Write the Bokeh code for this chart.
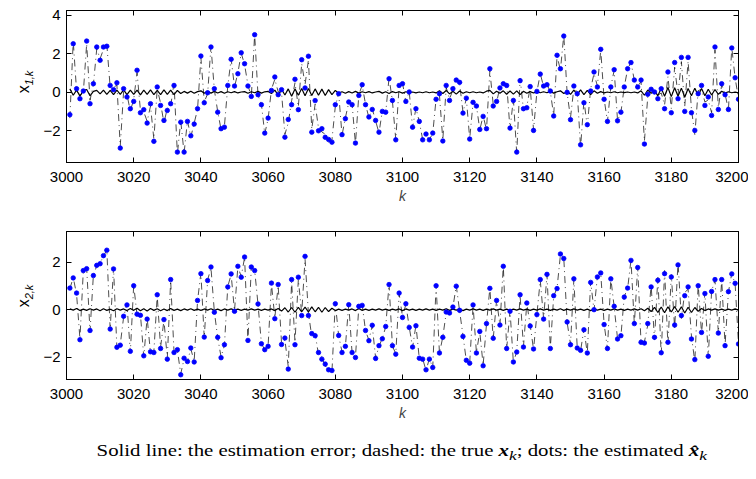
from bokeh.plotting import figure
from bokeh.models import LinearAxis, FixedTicker, Range1d, Div
from bokeh.layouts import column, row
from bokeh.embed import file_html
from bokeh.resources import INLINE

k = list(range(3001, 3201))
xticks = [3000, 3020, 3040, 3060, 3080, 3100, 3120, 3140, 3160, 3180, 3200]
yticks1 = [-2, 0, 2, 4]
yticks2 = [-2, 0, 2]

# estimated x_1,k (dots)
est1 = [
    -1.16, 2.53, 0.19, -0.33, 0.07, 2.67, -0.59, 0.45, 2.36, 1.67,
    2.36, 2.40, 0.36, 0.14, 0.50, -2.90, 0.19, -0.24, -0.85, -0.47,
    1.15, -1.06, -0.90, -1.60, -0.59, -2.55, 0.28, -0.68, -1.46, -0.94,
    -0.59, 0.36, -3.11, -1.55, -3.11, -1.51, -2.26, -1.65, -0.85, 1.89,
    -0.54, -0.02, 2.36, 0.19, -1.03, -1.89, -1.81, 0.36, 1.72, 0.33,
    0.97, 2.06, 1.49, 0.33, -0.21, 3.00, -0.12, -0.64, -2.12, -1.34,
    0.10, 0.80, -0.12, 0.14, -2.33, -1.41, -0.64, 0.68, -0.90, 1.70,
    0.23, 1.88, -2.07, -0.43, -2.00, -1.89, -2.34, -2.45, -2.59, -0.64,
    -0.07, -2.20, -1.37, -0.50, -0.64, -2.64, -0.16, 0.40, -0.64, -1.28,
    -0.89, -1.46, -2.07, -0.99, -1.03, 0.71, -0.42, -2.47, 0.36, 0.45,
    -0.47, 0.02, -1.81, -0.85, -1.51, -2.47, -2.17, -2.47, -2.12, -0.36,
    -0.07, -2.53, 0.36, -0.42, 0.19, 0.64, 0.52, -1.08, -0.30, -2.43,
    -0.52, -0.71, -1.93, -1.25, -1.89, 1.23, -0.71, -0.47, 0.23, 0.45,
    0.36, -1.86, -0.42, -3.11, 0.61, -0.85, -0.80, 0.30, -1.98, 0.05,
    0.95, 0.33, 0.40, 0.07, -1.23, 1.93, 1.23, 2.93, 0.00, -1.42,
    0.33, -0.07, -2.73, -0.54, -1.68, 0.07, 1.06, 0.28, 2.24, -0.36,
    -1.51, 0.28, 1.18, -1.48, -1.03, 0.28, 1.23, 1.55, 0.64, 0.28,
    0.64, -2.69, -0.10, 0.16, 0.02, -0.33, 0.19, -0.85, 1.06, -1.06,
    1.55, -0.33, 1.82, -0.99, 1.82, -1.06, -1.98, -0.07, 0.36, -0.68,
    -0.24, -1.20, 2.36, -0.89, 0.45, -0.12, -0.89, 2.31, 0.76, -0.36,
]

# estimation error of x_1,k (solid line)
err1 = [
    0.18, -0.15, 0.12, -0.20, 0.10, 0.15, -0.18, 0.05, 0.10, -0.08,
    0.12, -0.10, 0.10, -0.12, 0.12, -0.10, 0.13, -0.12, 0.12, -0.10,
    0.12, -0.13, 0.12, -0.10, 0.13, -0.12, 0.10, -0.12, 0.13, -0.11,
    0.12, -0.12, 0.10, -0.06, 0.05, -0.04, 0.06, -0.05, 0.04, 0.08,
    -0.05, 0.06, -0.04, 0.05, -0.03, 0.04, -0.05, 0.03, -0.02, 0.04,
    -0.03, 0.02, 0.04, -0.05, 0.03, -0.02, 0.05, -0.04, 0.03, 0.05,
    -0.06, 0.12, -0.15, 0.16, -0.14, 0.18, -0.20, 0.18, -0.15, 0.20,
    -0.18, 0.20, -0.16, 0.18, -0.15, 0.17, -0.16, 0.14, -0.12, 0.10,
    -0.04, 0.03, -0.05, 0.04, -0.03, 0.05, -0.04, 0.03, -0.02, 0.04,
    -0.03, 0.02, 0.05, -0.04, 0.03, -0.06, 0.04, -0.02, 0.03, -0.04,
    0.03, -0.02, 0.02, -0.03, 0.02, -0.02, 0.03, -0.02, 0.02, -0.03,
    0.08, -0.06, 0.10, -0.08, 0.06, -0.09, 0.07, -0.05, 0.03, -0.02,
    0.03, -0.02, 0.02, -0.03, 0.06, 0.10, -0.08, 0.06, -0.05, 0.08,
    -0.10, 0.07, -0.09, 0.08, -0.12, 0.06, -0.05, 0.04, -0.03, 0.02,
    -0.02, 0.03, -0.02, 0.05, -0.04, 0.03, 0.08, -0.06, 0.05, -0.10,
    0.12, -0.10, 0.13, -0.12, 0.10, -0.12, 0.08, -0.05, 0.04, -0.03,
    0.02, -0.02, 0.03, -0.02, 0.02, -0.01, 0.02, -0.02, 0.02, -0.03,
    0.08, -0.15, 0.12, -0.05, 0.10, -0.18, 0.22, -0.20, 0.25, -0.22,
    0.24, -0.20, 0.22, -0.25, 0.20, -0.18, 0.22, -0.16, 0.20, -0.18,
    0.16, -0.14, 0.15, -0.10, 0.06, -0.04, 0.03, -0.02, 0.02, -0.03,
]

# estimated x_2,k (dots)
est2 = [
    0.91, 1.34, 0.70, -1.27, 1.65, 1.73, -0.88, 1.44, 1.87, 1.94,
    2.28, 2.51, -0.82, 1.72, -1.59, -1.50, -0.28, 0.20, -1.76, 1.01,
    -0.19, -0.24, -1.95, -0.40, -1.78, -1.81, 0.63, -1.64, -0.42, -2.09,
    1.27, -1.81, -1.69, -2.75, -2.05, -2.19, -1.62, -2.21, 0.39, 1.52,
    -1.16, 1.23, 1.80, -0.11, -1.17, -2.03, -1.48, 0.96, 1.51, -0.07,
    1.83, 1.37, 2.22, -1.30, 1.80, 1.65, 0.24, -1.44, -1.69, -1.55,
    1.12, -0.38, 1.06, -1.47, -1.20, -2.51, 1.27, -1.48, 1.37, -0.25,
    2.25, -0.25, -1.01, -1.10, -1.81, -2.09, -2.30, -2.54, -2.57, 0.25,
    -1.09, -1.81, -1.55, 0.21, -1.81, -2.02, 0.14, 0.18, -0.88, -1.31,
    -0.66, -2.06, -1.52, -1.23, -0.71, 1.06, -1.52, -1.88, 0.70, -0.33,
    0.25, -0.75, -1.58, -0.68, -2.05, -2.09, -2.54, -2.09, -2.44, 1.01,
    -1.83, -1.17, -0.10, -0.14, 0.11, 0.99, -0.03, -1.13, -2.14, -2.26,
    0.20, -1.83, -0.92, -2.37, -0.59, 0.90, -1.21, 0.39, -0.65, 1.83,
    -1.64, -0.07, -2.21, -1.79, 0.63, -1.58, 0.28, -0.69, -1.66, -0.21,
    1.27, -0.40, 1.49, -1.64, 0.59, 0.89, 2.35, 2.16, -0.52, -1.48,
    1.30, -1.62, -1.72, -0.85, -1.83, 1.15, 0.00, 1.38, 1.55, -0.63,
    -1.64, 1.30, 0.14, -1.24, -1.10, 0.53, 0.91, 2.08, -0.59, 1.78,
    -1.38, -1.41, -0.59, 0.96, -1.17, 1.24, -1.82, 1.52, -1.38, 1.38,
    -0.65, 1.89, -0.25, 0.59, 0.96, -1.24, -2.11, 1.01, -0.96, 0.68,
    -1.97, 0.77, 1.27, -0.99, 1.27, -1.52, 0.76, 1.51, 1.11, -1.45,
]

# estimation error of x_2,k (solid line)
err2 = [
    0.03, -0.02, 0.05, -0.04, 0.02, -0.03, 0.04, -0.02, 0.03, -0.05,
    0.04, -0.03, 0.02, -0.05, 0.04, -0.02, 0.03, -0.04, 0.05, -0.03,
    0.06, -0.05, 0.04, -0.06, 0.05, -0.03, 0.04, -0.05, 0.03, -0.04,
    0.05, -0.03, 0.02, -0.04, 0.03, -0.02, 0.04, -0.03, 0.02, -0.03,
    0.03, -0.02, 0.04, -0.03, 0.02, -0.04, 0.03, -0.02, 0.03, -0.02,
    0.02, -0.03, 0.02, -0.02, 0.03, -0.02, 0.02, -0.03, 0.02, -0.02,
    0.03, -0.04, 0.05, -0.06, 0.08, -0.10, 0.09, -0.11, 0.10, -0.09,
    0.11, -0.10, 0.12, -0.09, 0.10, -0.11, 0.09, -0.08, 0.06, -0.04,
    0.02, -0.03, 0.02, -0.02, 0.03, -0.04, 0.05, -0.03, 0.02, -0.03,
    0.02, -0.02, 0.03, -0.02, 0.02, -0.03, 0.02, -0.02, 0.03, -0.04,
    0.03, -0.02, 0.02, -0.03, 0.02, -0.02, 0.03, -0.02, 0.02, -0.03,
    0.02, -0.02, 0.04, -0.03, 0.02, -0.02, 0.03, -0.04, 0.02, -0.02,
    0.03, -0.02, 0.02, -0.03, 0.02, -0.02, 0.03, -0.02, 0.02, -0.03,
    0.02, -0.03, 0.02, -0.02, 0.03, -0.02, 0.02, -0.03, 0.02, -0.02,
    0.03, -0.02, 0.02, -0.03, 0.02, -0.02, 0.04, -0.03, 0.02, -0.02,
    0.03, -0.02, 0.02, -0.03, 0.02, -0.04, 0.03, -0.02, 0.02, -0.03,
    0.02, -0.02, 0.03, -0.02, 0.02, -0.03, 0.02, -0.02, 0.03, -0.02,
    0.04, -0.05, 0.06, -0.08, 0.10, -0.12, 0.11, -0.13, 0.12, -0.10,
    0.13, -0.11, 0.12, -0.14, 0.10, -0.12, 0.09, -0.07, 0.05, -0.04,
    0.03, -0.02, 0.03, -0.02, 0.02, -0.03, 0.02, -0.02, 0.03, -0.02,
]

FONT = "Liberation Sans"
LABEL_W = 40


def panel(est, err, yr, yticks, height, top, bottom):
    true = [e - r for e, r in zip(est, err)]
    p = figure(width=748 - LABEL_W, height=height, x_range=Range1d(3000, 3200),
               y_range=Range1d(*yr), output_backend="svg", toolbar_location=None,
               min_border_left=66 - LABEL_W, min_border_right=10,
               min_border_top=top, min_border_bottom=bottom, margin=0)
    p.grid.visible = False
    p.outline_line_color = "black"
    p.outline_line_alpha = 1
    p.outline_line_width = 1
    p.line(k, err, color="black", line_width=1.2)
    p.line(k, true, color="black", line_width=0.7, line_dash="7 4 1 4")
    p.scatter(k, est, size=4.5, color="blue", line_color="blue", line_width=0.8)

    overrides = {t: ("\u2212" + str(-t) if t < 0 else str(t)) for t in yticks}
    for ax, ticks in ((p.xaxis[0], xticks), (p.yaxis[0], yticks)):
        ax.ticker = FixedTicker(ticks=ticks)
        ax.major_tick_in = 5
        ax.major_tick_out = 0
        ax.minor_tick_line_color = None
        ax.major_tick_line_color = "black"
        ax.axis_line_color = "black"
        ax.major_label_text_color = "black"
        ax.major_label_text_font = FONT
        ax.major_label_text_font_size = "15px"
    p.yaxis[0].major_label_overrides = overrides
    p.xaxis[0].major_label_standoff = 9
    p.yaxis[0].major_label_standoff = 6
    p.xaxis[0].axis_label = "k"
    p.xaxis[0].axis_label_text_font = FONT
    p.xaxis[0].axis_label_text_font_style = "italic"
    p.xaxis[0].axis_label_text_font_size = "14px"
    p.xaxis[0].axis_label_standoff = 3

    for side, ticks in (("above", xticks), ("right", yticks)):
        a = LinearAxis(ticker=FixedTicker(ticks=ticks), major_tick_in=5,
                       major_tick_out=0, minor_tick_line_color=None,
                       major_label_text_font_size="0px", major_label_standoff=0,
                       major_label_text_alpha=0, axis_line_color="black",
                       major_tick_line_color="black")
        p.add_layout(a, side)
    return p


def ylabel(sub, height, center_y):
    html = ("<div style=\"position:relative;width:%dpx;height:%dpx;\">"
            "<div style=\"position:absolute;left:25px;top:%dpx;"
            "transform:translate(-50%%,-50%%) rotate(-90deg);white-space:nowrap;"
            "font-family:'Liberation Sans',sans-serif;font-size:16px;color:black;\">"
            "x<sub style=\"font-size:11px;font-style:italic;\">%s</sub></div></div>"
            % (LABEL_W, height, center_y, sub))
    return Div(text=html, width=LABEL_W, height=height, margin=0)


p1 = panel(est1, err1, (-3.65, 4.26), yticks1, 228, 10, 66)
p2 = panel(est2, err2, (-2.95, 3.3), yticks2, 205, 3, 54)

caption = Div(
    text=("<div style=\"width:672px;margin-left:66px;margin-top:7px;text-align:center;"
          "font-family:'Liberation Serif',serif;font-size:16px;color:black;white-space:nowrap;\">"
          "<span style=\"display:inline-block;transform:scaleX(1.3);transform-origin:center;\">"
          "Solid line: the estimation error; dashed: the true "
          "<b><i>x</i></b><sub><i>k</i></sub>; dots: the estimated "
          "<b><i>x&#770;</i></b><sub><i>k</i></sub></span></div>"),
    width=748, height=40, margin=0)

layout = column(row(ylabel("1,k", 228, 82), p1, spacing=0),
                row(ylabel("2,k", 205, 68), p2, spacing=0),
                caption, spacing=0)
open("out.html", "w").write(file_html(layout, INLINE))
